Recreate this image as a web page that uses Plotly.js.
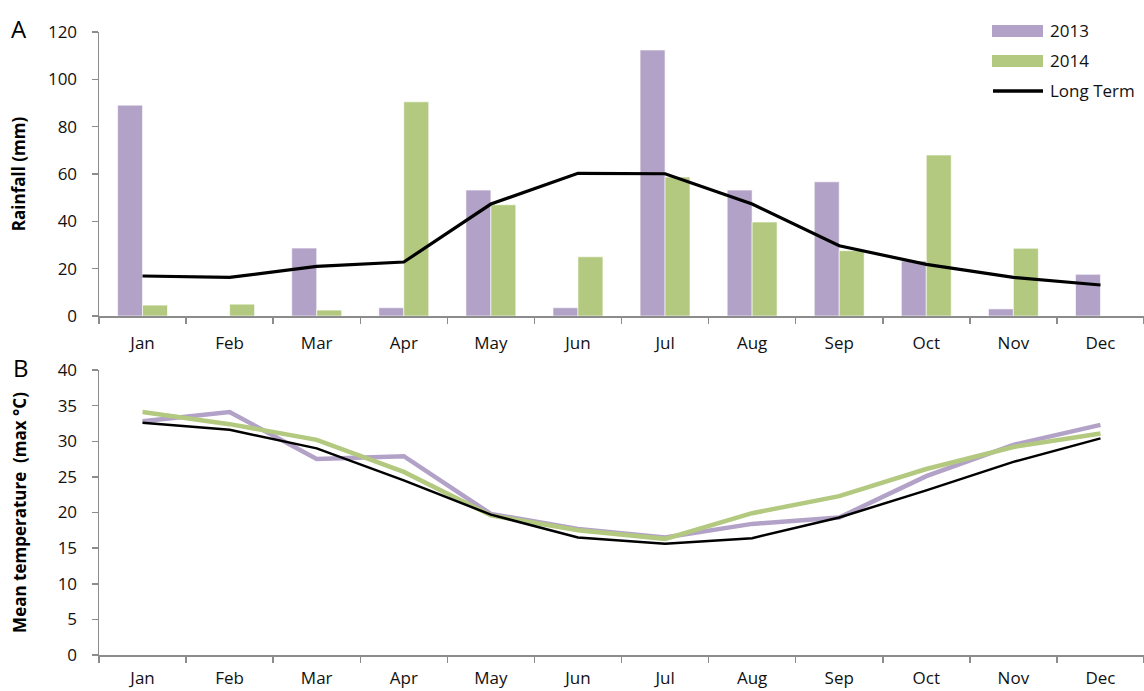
<!DOCTYPE html>
<html>
<head>
<meta charset="utf-8">
<script src="https://cdn.plot.ly/plotly-3.0.1.min.js"></script>
<style>html,body{margin:0;padding:0;background:#fff;}#chart{width:1144px;height:691px;}</style>
</head>
<body>
<div id="chart"></div>
<script>
var months = ["Jan","Feb","Mar","Apr","May","Jun","Jul","Aug","Sep","Oct","Nov","Dec"];
var rain2013 = [89.1, 0, 28.7, 3.5, 53.2, 3.5, 112.4, 53.2, 56.7, 23.2, 3.0, 17.6];
var rain2014 = [4.6, 5.0, 2.5, 90.5, 47.0, 25.0, 58.7, 39.7, 27.6, 68.0, 28.6, 0];
var rainLong = [16.9, 16.3, 21.0, 22.8, 47.3, 60.3, 60.1, 47.3, 29.7, 21.8, 16.3, 13.1];
var temp2013 = [32.8, 34.1, 27.5, 27.9, 19.8, 17.7, 16.5, 18.4, 19.3, 25.1, 29.5, 32.3];
var temp2014 = [34.1, 32.4, 30.2, 25.7, 19.6, 17.5, 16.3, 19.9, 22.3, 26.1, 29.2, 31.1];
var tempLong = [32.6, 31.6, 29.0, 24.5, 19.7, 16.5, 15.6, 16.4, 19.3, 23.1, 27.1, 30.4];
var legendNames = ["2013", "2014", "Long Term"];

var purple = "#B3A2C7", green = "#B3C97F";
var fam = "Open Sans, Liberation Sans, sans-serif";
var fnt = {family: fam, size: 17, color: "#111"};

var traces = [
  {type: "bar", name: legendNames[0], x: months, y: rain2013, marker: {color: purple, line: {color: "#ffffff", width: 0.6}}, xaxis: "x", yaxis: "y"},
  {type: "bar", name: legendNames[1], x: months, y: rain2014, marker: {color: green, line: {color: "#ffffff", width: 0.6}}, xaxis: "x", yaxis: "y"},
  {type: "scatter", mode: "lines", name: legendNames[2], x: months, y: rainLong, line: {color: "#000", width: 3.2}, xaxis: "x", yaxis: "y"},
  {type: "scatter", mode: "lines", name: "2013", x: months, y: temp2013, line: {color: purple, width: 4.5}, xaxis: "x2", yaxis: "y2"},
  {type: "scatter", mode: "lines", name: "2014", x: months, y: temp2014, line: {color: green, width: 4.5}, xaxis: "x2", yaxis: "y2"},
  {type: "scatter", mode: "lines", name: "Long Term", x: months, y: tempLong, line: {color: "#000", width: 2.5}, xaxis: "x2", yaxis: "y2"}
];

var axCommonX = {
  type: "category", showgrid: false, zeroline: false, showline: true, linecolor: "#8c8c8c", linewidth: 1.5,
  ticks: "outside", tickson: "boundaries", ticklen: 6, tickcolor: "#8c8c8c", tickwidth: 1.5,
  tickfont: fnt, ticklabelstandoff: 11, fixedrange: true
};
var axCommonY = {
  showgrid: false, zeroline: false, showline: true, linecolor: "#8c8c8c", linewidth: 1.5,
  ticks: "outside", ticklen: 6, tickcolor: "#8c8c8c", tickwidth: 1.5, tickfont: fnt, ticklabelstandoff: 11, fixedrange: true
};

// legend drawn in paper coordinates (swatches + labels)
var W = 1144, H = 691, ml = 99, mr = 0, mt = 32, mb = 36;
var pw = W - ml - mr, ph = H - mt - mb;
function px(x) { return (x - ml) / pw; }
function py(y) { return (H - mb - y) / ph; }
var legRows = [31, 61, 91];
var shapes = [
  {type: "rect", xref: "paper", yref: "paper", x0: px(992), x1: px(1043), y0: py(legRows[0] - 6), y1: py(legRows[0] + 6), fillcolor: purple, line: {width: 0}},
  {type: "rect", xref: "paper", yref: "paper", x0: px(992), x1: px(1043), y0: py(legRows[1] - 6), y1: py(legRows[1] + 6), fillcolor: green, line: {width: 0}},
  {type: "line", xref: "paper", yref: "paper", x0: px(993), x1: px(1043), y0: py(legRows[2]), y1: py(legRows[2]), line: {color: "#000", width: 3.5}}
];
var annotations = legendNames.map(function (n, i) {
  return {text: n, xref: "paper", yref: "paper", x: px(1048), y: py(legRows[i]), xanchor: "left", yanchor: "middle", showarrow: false, font: fnt};
});
annotations.push(
  {text: "A", xref: "paper", yref: "paper", x: px(9), y: py(28), xanchor: "left", yanchor: "middle", showarrow: false, font: {family: fam, size: 24, color: "#000"}},
  {text: "B", xref: "paper", yref: "paper", x: px(11), y: py(367), xanchor: "left", yanchor: "middle", showarrow: false, font: {family: fam, size: 24, color: "#000"}}
);

var layout = {
  width: W, height: H,
  margin: {l: ml, r: mr, t: mt, b: mb},
  paper_bgcolor: "#fff", plot_bgcolor: "#fff",
  font: fnt,
  barmode: "group", bargap: 0.427, bargroupgap: 0,
  showlegend: false,
  xaxis: Object.assign({}, axCommonX, {domain: [0, 1], anchor: "y", range: [-0.5, 11.5]}),
  yaxis: Object.assign({}, axCommonY, {domain: [py(316), 1], anchor: "x", range: [0, 120], dtick: 20,
    title: {text: "<b>Rainfall (mm)</b>", font: {family: fam, size: 17, color: "#000"}, standoff: 18}}),
  xaxis2: Object.assign({}, axCommonX, {domain: [0, 1], anchor: "y2", range: [-0.5, 11.5], ticklabelstandoff: 7}),
  yaxis2: Object.assign({}, axCommonY, {domain: [0, py(370)], anchor: "x2", range: [0, 40], dtick: 5,
    title: {text: "<b>Mean temperature  (max °C)</b>", font: {family: fam, size: 17, color: "#000"}, standoff: 26}}),
  shapes: shapes,
  annotations: annotations
};

Plotly.newPlot("chart", traces, layout, {displayModeBar: false, staticPlot: true});
</script>
</body>
</html>
